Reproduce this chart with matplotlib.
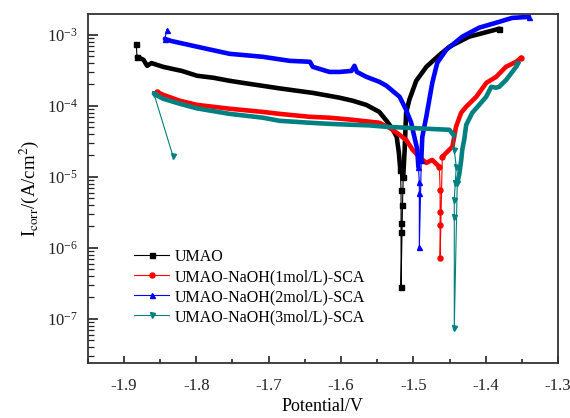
import matplotlib
matplotlib.use("Agg")
import matplotlib.pyplot as plt
from matplotlib.lines import Line2D
from matplotlib.ticker import FormatStrFormatter, LogLocator, MultipleLocator

plt.rcParams['font.family'] = ['Liberation Serif', 'DejaVu Serif']
plt.rcParams['mathtext.fontset'] = 'stix'
plt.rcParams['axes.unicode_minus'] = False

# polarization curves: potential (V) vs current density (A/cm2)
umao_v = [-1.883, -1.882, -1.873, -1.868, -1.862, -1.846, -1.820, -1.799, -1.776, -1.754,
          -1.731, -1.708, -1.685, -1.661, -1.639, -1.616, -1.602, -1.584, -1.565, -1.547,
          -1.537, -1.529, -1.523, -1.520, -1.518, -1.517, -1.517, -1.517, -1.517, -1.515,
          -1.514, -1.512, -1.510, -1.5055, -1.496, -1.482, -1.464, -1.450, -1.423, -1.381]
umao_i = [7.5e-4, 4.9e-4, 4.45e-4, 3.66e-4, 4.0e-4, 3.54e-4, 3.1e-4, 2.65e-4, 2.48e-4, 2.25e-4,
          2.07e-4, 1.91e-4, 1.76e-4, 1.63e-4, 1.52e-4, 1.38e-4, 1.30e-4, 1.18e-4, 1.03e-4, 8.2e-5,
          6.15e-5, 4.74e-5, 3.66e-5, 2.18e-5, 1.26e-5, 6.6e-6, 2.25e-6, 1.68e-6, 2.8e-7, 4.0e-6,
          1.0e-5, 2.4e-5, 7.96e-5, 1.22e-4, 2.25e-4, 3.54e-4, 5.2e-4, 6.8e-4, 9.4e-4, 1.22e-3]

sca1_v = [-1.8545, -1.846, -1.823, -1.799, -1.754, -1.708, -1.685, -1.643, -1.616, -1.584,
          -1.547, -1.533, -1.523, -1.510, -1.501, -1.492, -1.482, -1.474, -1.467, -1.464,
          -1.463, -1.463, -1.463, -1.463, -1.460, -1.4545, -1.446, -1.441, -1.434, -1.427,
          -1.413, -1.399, -1.3855, -1.372, -1.358, -1.351]
sca1_i = [1.57e-4, 1.43e-4, 1.18e-4, 1.03e-4, 9.1e-5, 8.2e-5, 7.7e-5, 7.0e-5, 6.8e-5, 6.35e-5,
          5.77e-5, 4.9e-5, 4.17e-5, 3.32e-5, 2.4e-5, 1.91e-5, 1.57e-5, 1.73e-5, 1.48e-5, 1.38e-5,
          6.6e-6, 3.2e-6, 2.1e-6, 7.2e-7, 1.91e-5, 2.18e-5, 2.65e-5, 5.06e-5, 7.96e-5, 9.7e-5,
          1.34e-4, 2.11e-4, 2.56e-4, 3.54e-4, 4.17e-4, 4.74e-4]

sca2_v = [-1.8407, -1.8434, -1.835, -1.799, -1.754, -1.708, -1.671, -1.643, -1.639, -1.616,
          -1.602, -1.5855, -1.5814, -1.578, -1.565, -1.547, -1.537, -1.519, -1.510, -1.503,
          -1.4986, -1.4945, -1.4931, -1.4917, -1.4917, -1.4917, -1.489, -1.4876, -1.4821, -1.4738,
          -1.4669, -1.4545, -1.4324, -1.409, -1.3855, -1.3634, -1.340]
sca2_i = [1.18e-3, 8.8e-4, 8.2e-4, 6.8e-4, 5.4e-4, 4.9e-4, 4.3e-4, 4.17e-4, 3.54e-4, 3.0e-4,
          3.0e-4, 3.1e-4, 3.66e-4, 3.0e-4, 2.56e-4, 2.18e-4, 1.91e-4, 1.34e-4, 8.8e-5, 5.77e-5,
          3.66e-5, 2.4e-5, 1.38e-5, 8.5e-6, 5.96e-6, 1.03e-6, 1.73e-5, 3.66e-5, 7.0e-5, 2.11e-4,
          4.04e-4, 6.15e-4, 9.4e-4, 1.26e-3, 1.48e-3, 1.73e-3, 1.79e-3]

sca3_v = [-1.8324, -1.8586, -1.846, -1.823, -1.799, -1.754, -1.708, -1.685, -1.643, -1.616,
          -1.584, -1.561, -1.537, -1.450, -1.4448, -1.4434, -1.4407, -1.4421, -1.4434, -1.4434,
          -1.4434, -1.4393, -1.4366, -1.4338, -1.4324, -1.4297, -1.4269, -1.4186, -1.409, -1.3993,
          -1.3924, -1.3855, -1.3814, -1.3717, -1.3579, -1.3566]
sca3_i = [1.98e-5, 1.48e-4, 1.26e-4, 1.07e-4, 9.2e-5, 7.7e-5, 6.8e-5, 6.15e-5, 5.77e-5, 5.57e-5,
          5.4e-5, 5.3e-5, 5.06e-5, 4.59e-5, 3.9e-5, 2.4e-5, 1.38e-5, 8.2e-6, 4.74e-6, 2.73e-6,
          7.5e-8, 8.2e-6, 1.07e-5, 1.73e-5, 2.4e-5, 3.32e-5, 5.4e-5, 7.96e-5, 1.03e-4, 1.34e-4,
          1.85e-4, 1.8e-4, 1.85e-4, 2.32e-4, 3.54e-4, 3.9e-4]

labels = ['UMAO', 'UMAO-NaOH(1mol/L)-SCA', 'UMAO-NaOH(2mol/L)-SCA', 'UMAO-NaOH(3mol/L)-SCA']

series = [
    (umao_v, umao_i, '#000000', 's', [(1, 25), (30, 40)]),
    (sca1_v, sca1_i, '#ff0000', 'o', [(0, 20), (24, 36)]),
    (sca2_v, sca2_i, '#0000ff', '^', [(1, 23), (26, 37)]),
    (sca3_v, sca3_i, '#008080', 'v', [(1, 15), (21, 36)]),
]

fig = plt.figure(figsize=(5.7, 4.18), dpi=100)
ax = fig.add_axes([0.154, 0.132, 0.825, 0.835])

handles = []
for (v, i, c, m, dense), lab in zip(series, labels):
    inside = set()
    for a, b in dense:
        inside.update(range(a + 1, b - 1))
    sparse = [k for k in range(len(v)) if k not in inside]
    ax.plot(v, i, color=c, lw=0.8, marker=m, ms=3.6, mec=c, markevery=sparse)
    # densely sampled stretches look like a thick band
    for a, b in dense:
        ax.plot(v[a:b], i[a:b], color=c, lw=3.3, solid_joinstyle='round',
                solid_capstyle='round')
    handles.append(Line2D([], [], color=c, lw=0.8, marker=m, ms=3.6, mec=c, label=lab))

ax.set_yscale('log')
ax.set_xlim(-1.95, -1.30)
ax.set_ylim(10 ** -7.62, 10 ** -2.704)

ax.xaxis.set_major_locator(MultipleLocator(0.1))
ax.xaxis.set_minor_locator(MultipleLocator(0.05))
ax.xaxis.set_major_formatter(FormatStrFormatter('%.1f'))
ax.yaxis.set_major_locator(LogLocator(base=10, numticks=12))
ax.yaxis.set_minor_locator(LogLocator(base=10, subs=range(2, 10), numticks=12))

ax.tick_params(axis='both', which='both', direction='in', top=False, right=False,
               labelsize=12, colors='#222222')
ax.tick_params(axis='x', which='major', length=5, width=1.2, pad=11)
ax.tick_params(axis='x', which='minor', length=3, width=1.2)
ax.tick_params(axis='y', which='major', length=7, width=1.2, pad=7)
ax.tick_params(axis='y', which='minor', length=4, width=0.9)

for sp in ax.spines.values():
    sp.set_linewidth(1.3)
    sp.set_color('#333333')

ax.set_xlabel('Potential/V', fontsize=13)
ax.xaxis.set_label_coords(0.5, -0.1)
ax.set_ylabel(r'I$_{\mathrm{corr}}$/(A/cm$^2$)', fontsize=13.5)
ax.yaxis.set_label_coords(-0.1, 0.5)

ax.legend(handles=handles, loc='upper left', bbox_to_anchor=(0.082, 0.349),
          frameon=False, fontsize=11.5, borderpad=0, handlelength=2.2,
          handletextpad=0.3, labelspacing=0.25, numpoints=1)

fig.savefig('out.png', dpi=100)
